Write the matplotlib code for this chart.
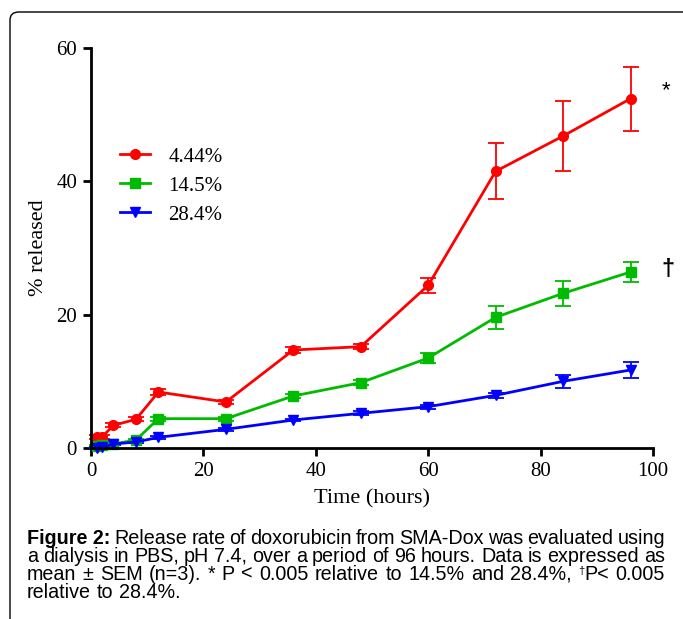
import numpy as np
import matplotlib.pyplot as plt
from matplotlib.patches import FancyBboxPatch
from matplotlib.lines import Line2D

# 数据
time_h = [1, 2, 4, 8, 12, 24, 36, 48, 60, 72, 84, 96]
rel_444 = [1.7, 1.7, 3.4, 4.3, 8.4, 6.9, 14.7, 15.2, 24.4, 41.5, 46.8, 52.4]
err_444 = [0.3, 0.3, 0.3, 0.3, 0.4, 0.3, 0.4, 0.4, 1.1, 4.2, 5.3, 4.8]
rel_145 = [0.3, 0.4, 0.6, 1.2, 4.4, 4.4, 7.8, 9.8, 13.5, 19.6, 23.2, 26.4]
err_145 = [0.1, 0.1, 0.1, 0.2, 0.3, 0.3, 0.3, 0.4, 0.8, 1.7, 1.9, 1.5]
rel_284 = [0.0, 0.1, 0.6, 0.9, 1.6, 2.8, 4.2, 5.2, 6.2, 7.9, 10.0, 11.7]
err_284 = [0.1, 0.1, 0.1, 0.1, 0.2, 0.2, 0.2, 0.3, 0.3, 0.4, 1.0, 1.2]
labels = ["4.44%", "14.5%", "28.4%"]

serif = "Liberation Serif"
sans = "Liberation Sans"
W, H = 683, 619

fig = plt.figure(figsize=(W / 100, H / 100), dpi=100)

# 外框（右侧和底部超出画面）
frame = FancyBboxPatch((10 / W, -0.2), 1.2, 1 - 12 / H + 0.2,
                       boxstyle="round,pad=0,rounding_size=0.013",
                       transform=fig.transFigure, fill=False,
                       edgecolor="black", linewidth=1.0)
fig.patches.append(frame)

ax = fig.add_axes([91 / W, 1 - 448 / H, (653 - 91) / W, (448 - 48) / H])

series = [
    (rel_444, err_444, "#ff0000", "o", 7),
    (rel_145, err_145, "#00bb00", "s", 7),
    (rel_284, err_284, "#0000ff", "v", 7.5),
]
handles = []
for (vals, errs, color, marker, ms), lab in zip(series, labels):
    ax.errorbar(time_h, vals, yerr=errs, color=color, marker=marker,
                markersize=ms, linewidth=2, elinewidth=1.3, capsize=6,
                capthick=1.3, clip_on=False)
    handles.append(Line2D([0], [0], color=color, marker=marker,
                          markersize=ms, linewidth=2, label=lab))

ax.set_xlim(0, 100)
ax.set_ylim(0, 60)
ax.set_xticks([0, 20, 40, 60, 80, 100])
ax.set_yticks([0, 20, 40, 60])
for s in ["top", "right"]:
    ax.spines[s].set_visible(False)
for s in ["left", "bottom"]:
    ax.spines[s].set_linewidth(2)
ax.tick_params(axis="both", which="major", direction="out", length=6,
               width=2, labelsize=15, pad=4)
for lbl in ax.get_xticklabels() + ax.get_yticklabels():
    lbl.set_family(serif)

ax.set_xlabel("Time (hours)", fontsize=16, family=serif, labelpad=6)
ax.set_ylabel("% released", fontsize=16, family=serif, labelpad=6)

ax.legend(handles=handles, loc="upper left", bbox_to_anchor=(0.052, 0.752),
          frameon=False, prop={"family": serif, "size": 15},
          handlelength=1.45, labelspacing=0.45, handletextpad=0.85,
          borderpad=0, borderaxespad=0)

# 显著性标记
fig.text(666 / W, 1 - 91 / H, "*", fontsize=16, ha="center", va="center",
         family=sans)
fig.text(668 / W, 1 - 270 / H, "\u2020", fontsize=17, ha="center",
         va="center", family=sans, fontweight="bold")

# 图注（两端对齐）
cap_lines = [
    "Release rate of doxorubicin from SMA-Dox was evaluated using",
    "a dialysis in PBS, pH 7.4, over a period of 96 hours. Data is expressed as",
    "mean \u00b1 SEM (n=3). * P < 0.005 relative to 14.5% and 28.4%, \u2020P< 0.005",
    "relative to 28.4%.",
]
cap_size = 14.2
sup_size = 8
x_left, x_right = 27, 665
baselines = [544, 562, 580, 598]
renderer = fig.canvas.get_renderer()


def text_width(s, size=cap_size, bold=False):
    t = fig.text(0, 0, s, fontsize=size, family=sans,
                 fontweight="bold" if bold else "normal")
    w = t.get_window_extent(renderer).width
    t.remove()
    return w


def word_width(word, bold=False):
    if word.startswith("\u2020"):
        return text_width("\u2020", sup_size) + text_width(word[1:])
    return text_width(word, bold=bold)


def draw_word(x, base, word, bold=False):
    y = 1 - base / H
    if word.startswith("\u2020"):
        fig.text(x / W, y + 6 / H, "\u2020", fontsize=sup_size, family=sans,
                 va="baseline")
        x += text_width("\u2020", sup_size)
        word = word[1:]
    fig.text(x / W, y, word, fontsize=cap_size, family=sans,
             fontweight="bold" if bold else "normal", va="baseline")


for i, line in enumerate(cap_lines):
    words = line.split(" ")
    bold_flags = [False] * len(words)
    if i == 0:
        words = ["Figure 2:"] + words
        bold_flags = [True] + bold_flags
    widths = [word_width(w, b) for w, b in zip(words, bold_flags)]
    if i < len(cap_lines) - 1:
        gap = (x_right - x_left - sum(widths)) / (len(words) - 1)
    else:
        gap = text_width("a b") - text_width("a") - text_width("b")
    x = x_left
    for w, b, wd in zip(words, bold_flags, widths):
        draw_word(x, baselines[i], w, b)
        x += wd + gap

fig.savefig("out.png", dpi=100)
